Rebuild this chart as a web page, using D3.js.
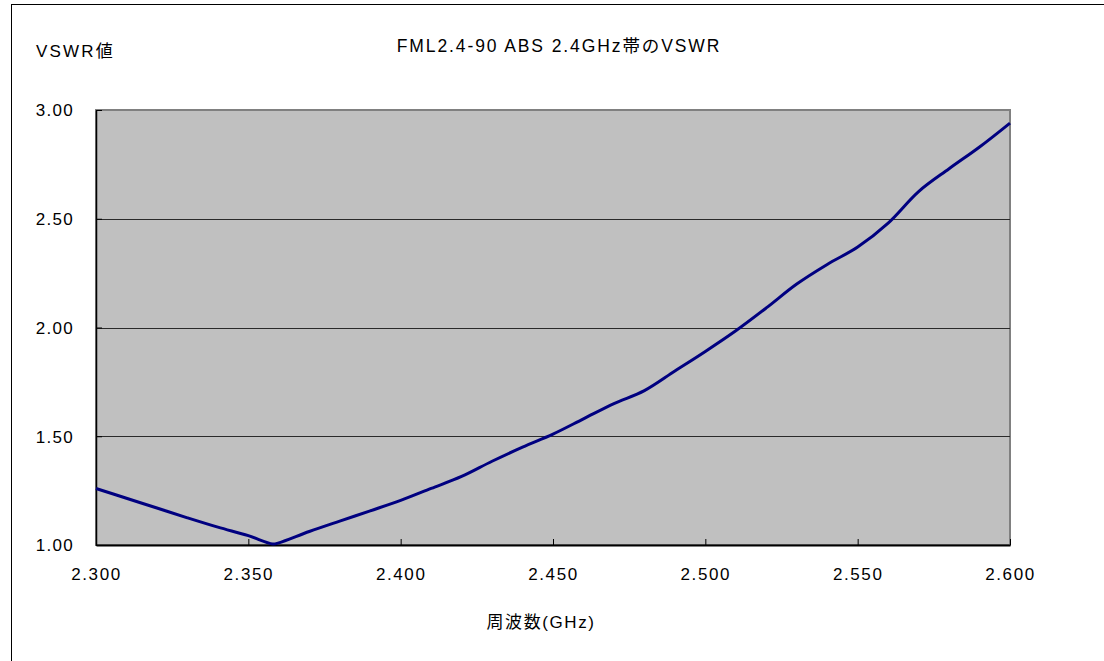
<!DOCTYPE html>
<html><head><meta charset="utf-8">
<script src="https://cdn.jsdelivr.net/npm/d3@7"></script>
<style>
body{margin:0;background:#fff;}
text{font-family:"Liberation Sans",Arial,"Noto Sans CJK JP",sans-serif;fill:#000;}
</style></head><body>
<svg id="c" width="1104" height="661"></svg>
<script>
const freqs = [2.300,2.310,2.320,2.330,2.340,2.350,2.358,2.360,2.370,2.380,2.390,2.400,2.410,2.420,2.430,2.440,2.450,2.460,2.470,2.480,2.490,2.500,2.510,2.520,2.530,2.540,2.550,2.560,2.570,2.580,2.590,2.600];
const vswr  = [1.26,1.215,1.17,1.125,1.082,1.043,1.005,1.01,1.062,1.11,1.157,1.205,1.26,1.315,1.385,1.45,1.51,1.58,1.65,1.71,1.80,1.89,1.985,2.09,2.20,2.29,2.37,2.48,2.625,2.73,2.83,2.94];
const xTicks = [2.30,2.35,2.40,2.45,2.50,2.55,2.60];
const yTicks = [1.0,1.5,2.0,2.5,3.0];
const title = "FML2.4-90 ABS 2.4GHz帯のVSWR";
const yTitle = "VSWR値";
const xTitle = "周波数(GHz)";

const svg = d3.select("#c");
const L=96,R=1010,T=110,B=545;
const x = d3.scaleLinear().domain([2.3,2.6]).range([L,R]);
const y = d3.scaleLinear().domain([1,3]).range([B,T]);

svg.append("rect").attr("x",11.5).attr("y",4.5).attr("width",1200).attr("height",800)
  .attr("fill","none").attr("stroke","#000").attr("stroke-width",1);

svg.append("rect").attr("x",L).attr("y",T).attr("width",R-L).attr("height",B-T)
  .attr("fill","#c0c0c0").attr("stroke","#808080").attr("stroke-width",2);

svg.append("g").selectAll("line").data(yTicks.filter(d=>d>1&&d<3)).join("line")
  .attr("x1",L).attr("x2",R).attr("y1",d=>Math.round(y(d))+0.5).attr("y2",d=>Math.round(y(d))+0.5)
  .attr("stroke","#2a2a2a").attr("stroke-width",1);

const xAxis = svg.append("g").attr("transform",`translate(0,${B})`)
  .call(d3.axisBottom(x).tickValues(xTicks).tickSizeInner(-6).tickSizeOuter(0).tickPadding(20).tickFormat(d3.format(".3f")));
xAxis.select(".domain").attr("stroke","#000").attr("stroke-width",2);
xAxis.selectAll(".tick line").attr("stroke","#000");
xAxis.selectAll("text").attr("font-size",17).attr("letter-spacing",1.6).attr("dy","0.35em").attr("y",29);

const yAxis = svg.append("g").attr("transform",`translate(${L},0)`)
  .call(d3.axisLeft(y).tickValues(yTicks).tickSizeInner(-6).tickSizeOuter(0).tickPadding(23).tickFormat(d3.format(".2f")));
yAxis.select(".domain").attr("stroke","#000").attr("stroke-width",1.5);
yAxis.selectAll(".tick line").attr("stroke","#000");
yAxis.selectAll("text").attr("font-size",17).attr("letter-spacing",1.3).attr("x",-22).attr("dy","0.35em");

const line = d3.line().x((d,i)=>x(freqs[i])).y(d=>y(d)).curve(d3.curveCatmullRom.alpha(0.5));
svg.append("path").datum(vswr).attr("d",line).attr("fill","none")
  .attr("stroke","#000080").attr("stroke-width",3).attr("stroke-linejoin","round");

svg.append("text").attr("x",559).attr("y",52).attr("text-anchor","middle").attr("font-size",17.5).attr("letter-spacing",1.9).text(title);
svg.append("text").attr("x",36).attr("y",57).attr("font-size",17).attr("letter-spacing",2.2).text(yTitle);
svg.append("text").attr("x",541).attr("y",628).attr("text-anchor","middle").attr("font-size",17).attr("letter-spacing",1.6).text(xTitle);
</script></body></html>
